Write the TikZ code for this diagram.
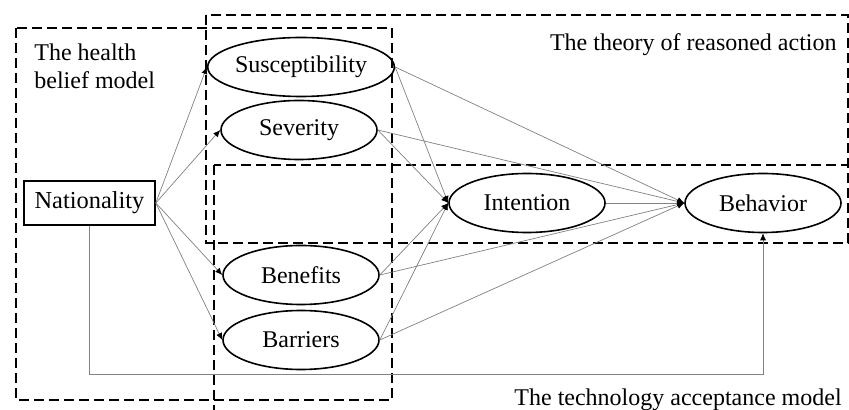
\documentclass[tikz,border=0pt]{standalone}
\usepackage{fontspec}
\setmainfont{Liberation Serif}
\usepackage{tikz}
\usetikzlibrary{arrows.meta, shapes.geometric}
\definecolor{linkgray}{RGB}{130,130,130}
\tikzset{
  construct/.style={
    ellipse, draw, line width=0.8pt, minimum width=78pt, minimum height=29.5pt,
    inner sep=0pt, font=\fontsize{12}{14.4}\selectfont
  },
  link/.style={draw=linkgray, line width=0.35pt, -{Latex[length=3.5pt, width=3pt, color=black]}},
  group/.style={draw, dash pattern=on 5pt off 2.5pt, line width=0.75pt},
  modelname/.style={inner sep=0pt, font=\fontsize{12}{14.4}\selectfont},
}
\begin{document}
\begin{tikzpicture}[
  x=0.5pt, y=-0.5pt,
  block/.style={draw, line width=0.8pt, minimum width=65.5pt, minimum height=22pt, inner sep=0pt, font=\fontsize{12.2}{14.4}\selectfont}
]
  \clip (0,0) rectangle (849,410);
  \fill[white] (0,0) rectangle (849,410);
  \draw[group] (16,28) rectangle (392,400);
  \draw[group] (206,15) rectangle (848,243);
  \draw[group] (214,165) rectangle (880,440);
  \node[modelname, anchor=north west, align=left] (HBM) at (34,43) {The health\\belief model};
  \node[modelname, anchor=base east] (TRA) at (837,51) {The theory of reasoned action};
  \node[modelname, anchor=base east] (TAM) at (842,405) {The technology acceptance model};
  \node[block] (NAT) at (89.5,203) {Nationality};
  \node[construct] (SUS) at (301,67) {Susceptibility};
  \node[construct] (SEV) at (299,130) {Severity};
  \node[construct] (BEN) at (301,275) {Benefits};
  \node[construct] (BAR) at (301,340) {Barriers};
  \node[construct] (INT) at (527,203) {Intention};
  \node[construct] (BEH) at (763,203) {Behavior};
  \draw[link] (NAT.east) -- (SUS.west);
  \draw[link] (NAT.east) -- (SEV.west);
  \draw[link] (NAT.east) -- (BEN.west);
  \draw[link] (NAT.east) -- (BAR.west);
  \draw[link] (SUS.east) -- (INT.west);
  \draw[link] (SEV.east) -- (INT.west);
  \draw[link] (BEN.east) -- (INT.west);
  \draw[link] (BAR.east) -- (INT.west);
  \draw[link] (SUS.east) -- (BEH.west);
  \draw[link] (SEV.east) -- (BEH.west);
  \draw[link] (BEN.east) -- (BEH.west);
  \draw[link] (BAR.east) -- (BEH.west);
  \draw[link] (INT.east) -- (BEH.west);
  \draw[link] (NAT.south) -- ++(0,149) -| (BEH.south);
\end{tikzpicture}
\end{document}
